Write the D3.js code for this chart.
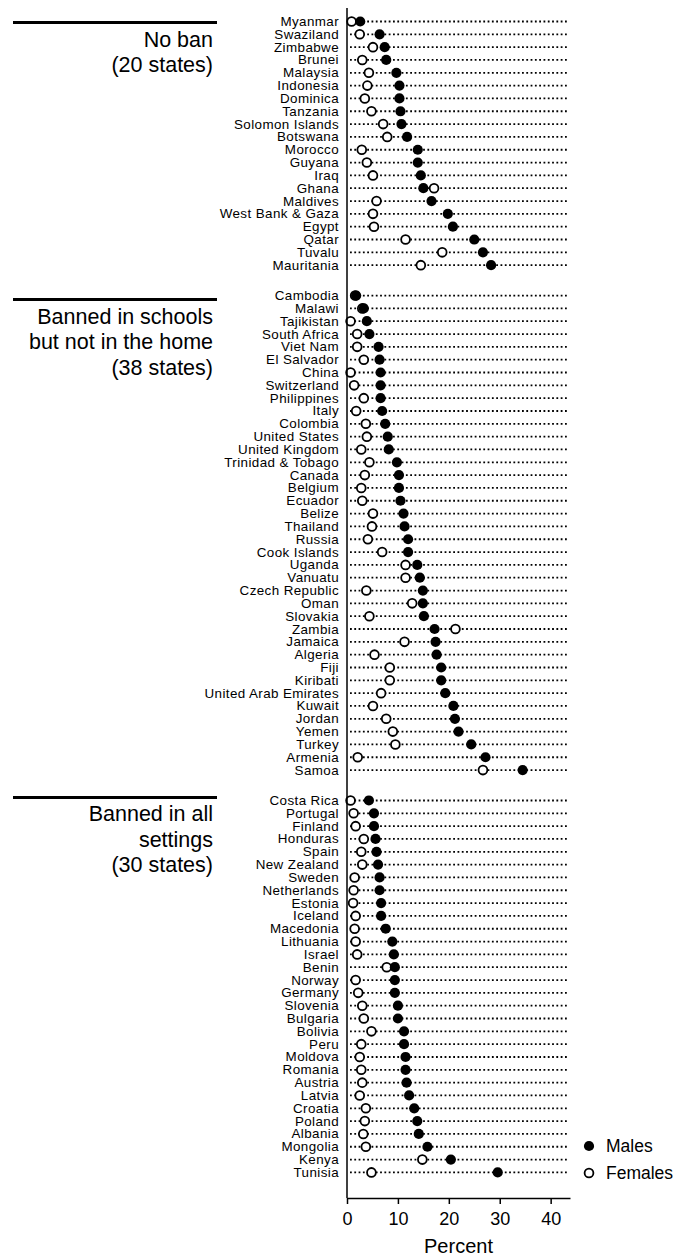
<!DOCTYPE html>
<html>
<head>
<meta charset="utf-8">
<script src="https://cdn.jsdelivr.net/npm/d3@7"></script>
<style>
  html, body { margin: 0; padding: 0; background: #fff; }
  svg { display: block; font-family: "Liberation Sans", Arial, Helvetica, sans-serif; }
</style>
</head>
<body>
<svg id="chart" width="688" height="1256"></svg>
<script>
// ---------------- DATA ----------------
const groupNames = [
  ["No ban", "(20 states)"],
  ["Banned in schools", "but not in the home", "(38 states)"],
  ["Banned in all", "settings", "(30 states)"]
];

const noBanCountries = ["Myanmar","Swaziland","Zimbabwe","Brunei","Malaysia","Indonesia","Dominica","Tanzania","Solomon Islands","Botswana","Morocco","Guyana","Iraq","Ghana","Maldives","West Bank & Gaza","Egypt","Qatar","Tuvalu","Mauritania"];
const noBanMales   = [2.6,6.4,7.4,7.7,9.7,10.3,10.3,10.5,10.7,11.8,13.9,13.9,14.5,15.0,16.6,19.8,20.8,25.0,26.7,28.3];
const noBanFemales = [0.9,2.5,5.1,3.0,4.3,4.0,3.5,4.8,7.1,7.9,2.9,3.9,5.1,17.1,5.8,5.1,5.3,11.5,18.7,14.5];

const schoolCountries = ["Cambodia","Malawi","Tajikistan","South Africa","Viet Nam","El Salvador","China","Switzerland","Philippines","Italy","Colombia","United States","United Kingdom","Trinidad & Tobago","Canada","Belgium","Ecuador","Belize","Thailand","Russia","Cook Islands","Uganda","Vanuatu","Czech Republic","Oman","Slovakia","Zambia","Jamaica","Algeria","Fiji","Kiribati","United Arab Emirates","Kuwait","Jordan","Yemen","Turkey","Armenia","Samoa"];
const schoolMales   = [1.8,3.3,3.9,4.4,6.2,6.4,6.6,6.6,6.6,6.9,7.5,8.0,8.2,9.8,10.2,10.2,10.5,11.1,11.3,12.0,12.0,13.8,14.3,14.9,14.9,15.1,17.2,17.4,17.6,18.5,18.5,19.3,20.9,21.2,21.9,24.4,27.2,34.5];
const schoolFemales = [1.6,3.0,0.7,2.0,2.0,3.3,0.7,1.4,3.3,1.8,3.7,3.9,2.8,4.4,3.5,2.8,3.0,5.1,4.9,4.1,6.9,11.5,11.5,3.8,12.8,4.4,21.3,11.3,5.4,8.4,8.4,6.7,5.1,7.7,9.0,9.5,2.1,26.7];

const allCountries = ["Costa Rica","Portugal","Finland","Honduras","Spain","New Zealand","Sweden","Netherlands","Estonia","Iceland","Macedonia","Lithuania","Israel","Benin","Norway","Germany","Slovenia","Bulgaria","Bolivia","Peru","Moldova","Romania","Austria","Latvia","Croatia","Poland","Albania","Mongolia","Kenya","Tunisia"];
const allMales   = [4.3,5.3,5.3,5.6,5.8,6.1,6.4,6.4,6.7,6.7,7.6,8.9,9.2,9.4,9.4,9.4,10.0,10.0,11.2,11.2,11.5,11.5,11.7,12.2,13.2,13.8,14.1,15.8,20.4,29.6];
const allFemales = [0.7,1.3,1.7,3.3,2.8,3.0,1.5,1.3,1.2,1.7,1.5,1.7,2.0,7.8,1.7,2.2,3.0,3.3,4.8,2.8,2.5,2.8,3.0,2.5,3.7,3.5,3.2,3.7,14.8,4.8];

const xTicks = [0, 10, 20, 30, 40];
const xMax = 43.8;
const axisTitle = "Percent";
const legendLabels = ["Males", "Females"];

// ---------------- BUILD ROWS ----------------
const groups = [
  { names: noBanCountries, males: noBanMales, females: noBanFemales },
  { names: schoolCountries, males: schoolMales, females: schoolFemales },
  { names: allCountries, males: allMales, females: allFemales }
];
const GAP = 1.37; // extra row-steps between groups
const headerShift = [1, 4, -3]; // header rule offset from first row (px)
const rows = [];
let idx = 0;
groups.forEach((g, gi) => {
  g.names.forEach((n, i) => {
    rows.push({ name: n, male: g.males[i], female: g.females[i], group: gi, pos: idx + GAP * gi, first: i === 0 });
    idx++;
  });
});
const maxPos = d3.max(rows, d => d.pos);

// ---------------- SCALES ----------------
const svg = d3.select("#chart");
const x = d3.scaleLinear().domain([0, xMax]).range([347, 570]);
const y = d3.scaleLinear().domain([0, maxPos]).range([21.5, 1172.4]);
const axisY = 1198;

// dotted guide lines
svg.append("g").selectAll("line").data(rows).join("line")
  .attr("x1", x(0) + 3).attr("x2", x(xMax) - 1.5)
  .attr("y1", d => y(d.pos)).attr("y2", d => y(d.pos))
  .attr("stroke", "#000").attr("stroke-width", 1.8)
  .attr("stroke-dasharray", "1.8,2.5");

// country labels
svg.append("g").selectAll("text").data(rows).join("text")
  .attr("x", 339).attr("y", d => y(d.pos))
  .attr("text-anchor", "end").attr("dominant-baseline", "central")
  .attr("font-size", 13.4).attr("letter-spacing", 0.4).attr("fill", "#000")
  .text(d => d.name);

// female (open) circles
svg.append("g").selectAll("circle").data(rows).join("circle")
  .attr("cx", d => x(d.female)).attr("cy", d => y(d.pos)).attr("r", 4.4)
  .attr("fill", "#fff").attr("stroke", "#000").attr("stroke-width", 1.8);

// male (filled) circles
svg.append("g").selectAll("circle").data(rows).join("circle")
  .attr("cx", d => x(d.male)).attr("cy", d => y(d.pos)).attr("r", 5.1)
  .attr("fill", "#000");

// vertical axis line
svg.append("line").attr("x1", x(0)).attr("x2", x(0)).attr("y1", 8).attr("y2", axisY)
  .attr("stroke", "#000").attr("stroke-width", 1.5);

// bottom axis
const xAxis = d3.axisBottom(x).tickValues(xTicks).tickSize(6).tickSizeOuter(0).tickPadding(8);
const ax = svg.append("g").attr("transform", `translate(0,${axisY})`).call(xAxis);
ax.select(".domain").attr("stroke-width", 1.5);
ax.selectAll(".tick line").attr("stroke-width", 1.5);
ax.selectAll(".tick text").attr("font-size", 18).attr("font-family", "Liberation Sans, Arial, sans-serif").attr("fill", "#000");

svg.append("text").attr("x", (x(0) + x(xMax)) / 2).attr("y", 1253)
  .attr("text-anchor", "middle").attr("font-size", 20).text(axisTitle);

// group headers
groupNames.forEach((lines, gi) => {
  const firstRow = rows.find(r => r.group === gi && r.first);
  const ly = y(firstRow.pos) + headerShift[gi];
  svg.append("line").attr("x1", 13).attr("x2", 217).attr("y1", ly).attr("y2", ly)
    .attr("stroke", "#000").attr("stroke-width", 3);
  const t = svg.append("text").attr("text-anchor", "end").attr("font-size", 21.5);
  lines.forEach((l, li) => {
    t.append("tspan").attr("x", 213).attr("y", ly + 24 + li * 25.5).text(l);
  });
});

// legend
const legend = svg.append("g");
const ly0 = 1146, lstep = 27;
legend.append("circle").attr("cx", 589).attr("cy", ly0).attr("r", 5.1).attr("fill", "#000");
legend.append("circle").attr("cx", 589).attr("cy", ly0 + lstep).attr("r", 4.4)
  .attr("fill", "#fff").attr("stroke", "#000").attr("stroke-width", 1.8);
legendLabels.forEach((l, i) => {
  legend.append("text").attr("x", 606).attr("y", ly0 + i * lstep)
    .attr("dominant-baseline", "central").attr("font-size", 17.5).text(l);
});
</script>
</body>
</html>
